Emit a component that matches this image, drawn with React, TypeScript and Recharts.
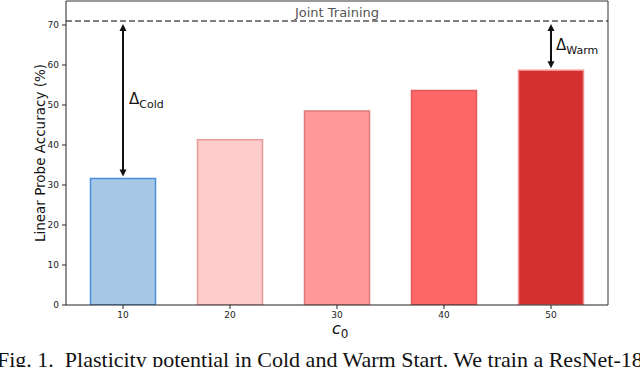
import {
  Bar,
  BarChart,
  Cell,
  Label,
  ReferenceLine,
  XAxis,
  YAxis,
} from "recharts";

// values
const c0 = ["10", "20", "30", "40", "50"];
const accuracy = [31.6, 41.3, 48.5, 53.6, 58.7];
const jointTraining = 71;
const yTicks = [0, 10, 20, 30, 40, 50, 60, 70];
const barFills = ["#a7c7e7", "#ffcccc", "#ff9999", "#ff6666", "#d62f2f"];
const barEdges = ["#4a90d9", "#e59a9a", "#e07a7a", "#e25a5a", "#f09090"];

const data = c0.map((c, i) => ({ c0: c, acc: accuracy[i] }));

const sans = "DejaVu Sans";

// double headed arrow between joint training and a bar top, with a delta label
function GapArrow(props: any) {
  const { x1, y1, x2, y2, name, dx } = props;
  const top = Math.min(y1, y2) + 3;
  const bottom = Math.max(y1, y2) - 2;
  const x = (x1 + x2) / 2;
  const h = 7;
  const w = 3.5;
  return (
    <g>
      <line x1={x} y1={top + h - 1} x2={x} y2={bottom - h + 1} stroke="#111" strokeWidth={2} />
      <polygon points={`${x},${top} ${x - w},${top + h} ${x + w},${top + h}`} fill="#111" />
      <polygon points={`${x},${bottom} ${x - w},${bottom - h} ${x + w},${bottom - h}`} fill="#111" />
      <text x={x + dx} y={(top + bottom) / 2 + 4} fontFamily={sans} fill="#111">
        <tspan fontSize={15}>Δ</tspan>
        <tspan fontSize={11} dy={4}>{name}</tspan>
      </text>
    </g>
  );
}

export default function App() {
  return (
    <div style={{ position: "absolute", left: 0, top: 0, width: 640, height: 367, overflow: "hidden", background: "#fff" }}>
      <BarChart
        width={640}
        height={345}
        data={data}
        margin={{ top: 0, right: 31, left: 0, bottom: 21 }}
        barCategoryGap={21}
      >
        <XAxis
          dataKey="c0"
          padding={{ left: 3.5, right: 3.5 }}
          tick={{ fontSize: 9, fontFamily: sans, fill: "#222" }}
          tickLine={{ stroke: "#222" }}
          axisLine={{ stroke: "#222" }}
          tickSize={4}
          tickMargin={3}
          height={19}
        >
          <Label
            position="bottom"
            content={(p: any) => {
              const vb = p.viewBox;
              return (
                <text x={vb.x + vb.width / 2 - 5} y={vb.y + 29} fontFamily={sans} fill="#111" fontStyle="italic">
                  <tspan fontSize={16}>c</tspan>
                  <tspan fontSize={12} dy={4} fontStyle="normal">0</tspan>
                </text>
              );
            }}
          />
        </XAxis>
        <XAxis xAxisId="top" orientation="top" dataKey="c0" height={1} tick={false} tickLine={false} axisLine={{ stroke: "#333" }} />
        <YAxis
          domain={[0, 76]}
          ticks={yTicks}
          width={66}
          tick={{ fontSize: 9, fontFamily: sans, fill: "#222" }}
          tickLine={{ stroke: "#222" }}
          axisLine={{ stroke: "#222" }}
          tickSize={4}
          tickMargin={3}
          allowDataOverflow
        >
          <Label
            position="insideLeft"
            content={() => {
              const cy = 153;
              return (
                <text x={45} y={cy} transform={`rotate(-90 45 ${cy})`} textAnchor="middle" fontFamily={sans} fontSize={13.5} fill="#111">
                  Linear Probe Accuracy (%)
                </text>
              );
            }}
          />
        </YAxis>
        <YAxis yAxisId="right" orientation="right" width={1} domain={[0, 76]} tick={false} tickLine={false} axisLine={{ stroke: "#333" }} />
        <ReferenceLine
          y={jointTraining}
          stroke="#555"
          strokeWidth={1.5}
          strokeDasharray="6 3"
        >
          <Label value="Joint Training" position="top" offset={4} fontFamily={sans} fontSize={13} fill="#555" />
        </ReferenceLine>
        <Bar dataKey="acc" isAnimationActive={false} strokeWidth={1.5}>
          {data.map((d, i) => (
            <Cell key={d.c0} fill={barFills[i]} stroke={barEdges[i]} />
          ))}
        </Bar>
        <ReferenceLine
          segment={[{ x: c0[0], y: jointTraining }, { x: c0[0], y: accuracy[0] }]}
          shape={(p: any) => <GapArrow {...p} name="Cold" dx={6} />}
        />
        <ReferenceLine
          segment={[{ x: c0[4], y: jointTraining }, { x: c0[4], y: accuracy[4] }]}
          shape={(p: any) => <GapArrow {...p} name="Warm" dx={5} />}
        />
      </BarChart>
      <div
        style={{
          position: "absolute",
          left: -3,
          top: 349,
          fontFamily: "Liberation Serif",
          fontSize: 22,
          lineHeight: "22px",
          whiteSpace: "pre",
          color: "#111",
        }}
      >
        {"Fig. 1.  Plasticity potential in Cold and Warm Start. We train a ResNet-18"}
      </div>
    </div>
  );
}
